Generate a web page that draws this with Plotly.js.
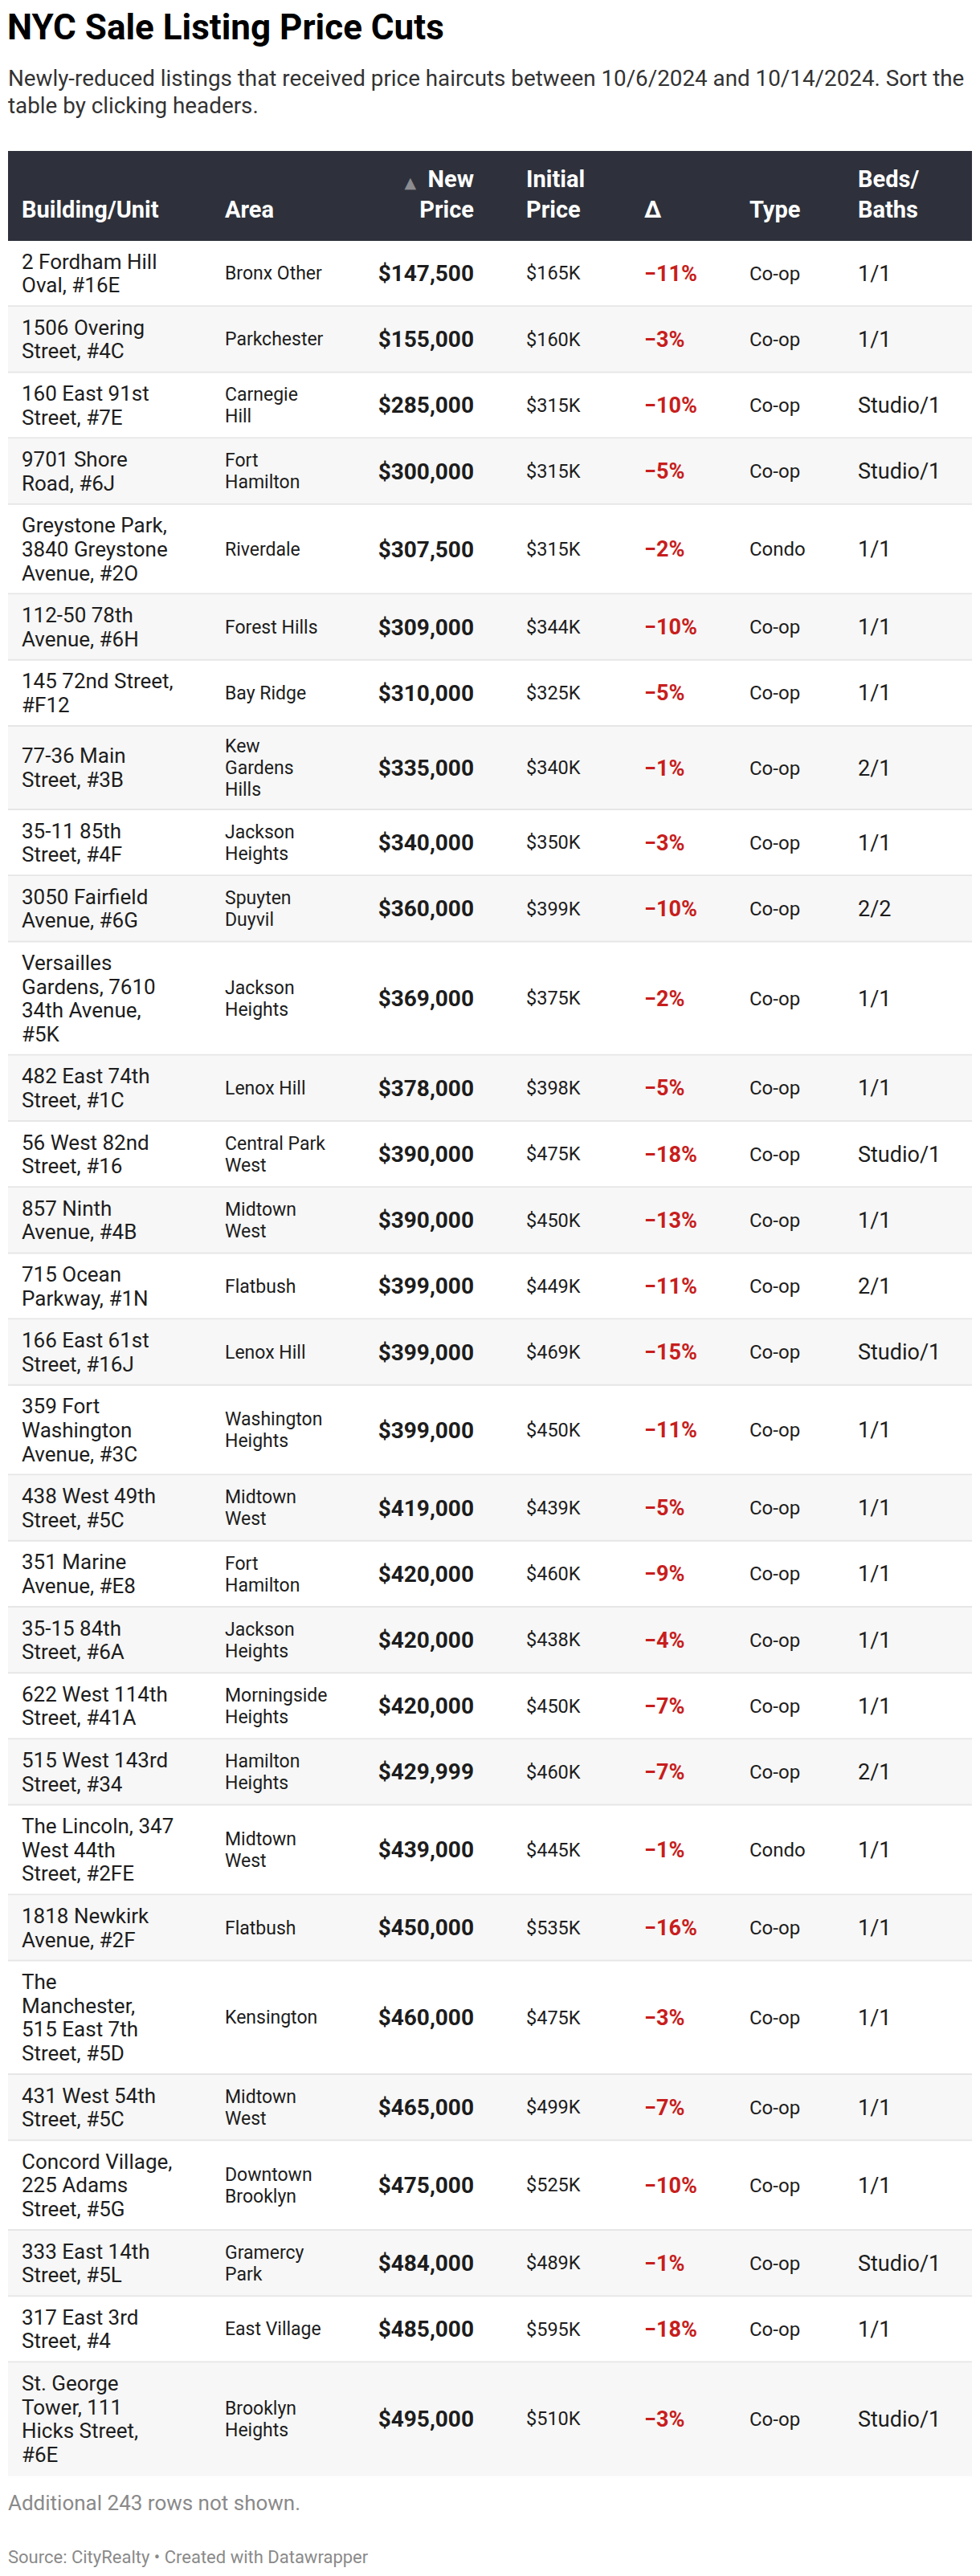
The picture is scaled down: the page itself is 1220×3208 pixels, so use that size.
<!DOCTYPE html>
<html>
<head>
<meta charset="utf-8">
<script src="https://cdn.plot.ly/plotly-3.0.1.min.js"></script>
<style>
  body { margin: 0; background: #fff; }
  #price-cuts { width: 1220px; height: 3208px; }
</style>
</head>
<body>
<div id="price-cuts"></div>
<script>
// one array per table column, line breaks as in the published table
var buildings = [
  "2 Fordham Hill<br>Oval, #16E",
  "1506 Overing<br>Street, #4C",
  "160 East 91st<br>Street, #7E",
  "9701 Shore<br>Road, #6J",
  "Greystone Park,<br>3840 Greystone<br>Avenue, #2O",
  "112-50 78th<br>Avenue, #6H",
  "145 72nd Street,<br>#F12",
  "77-36 Main<br>Street, #3B",
  "35-11 85th<br>Street, #4F",
  "3050 Fairfield<br>Avenue, #6G",
  "Versailles<br>Gardens, 7610<br>34th Avenue,<br>#5K",
  "482 East 74th<br>Street, #1C",
  "56 West 82nd<br>Street, #16",
  "857 Ninth<br>Avenue, #4B",
  "715 Ocean<br>Parkway, #1N",
  "166 East 61st<br>Street, #16J",
  "359 Fort<br>Washington<br>Avenue, #3C",
  "438 West 49th<br>Street, #5C",
  "351 Marine<br>Avenue, #E8",
  "35-15 84th<br>Street, #6A",
  "622 West 114th<br>Street, #41A",
  "515 West 143rd<br>Street, #34",
  "The Lincoln, 347<br>West 44th<br>Street, #2FE",
  "1818 Newkirk<br>Avenue, #2F",
  "The<br>Manchester,<br>515 East 7th<br>Street, #5D",
  "431 West 54th<br>Street, #5C",
  "Concord Village,<br>225 Adams<br>Street, #5G",
  "333 East 14th<br>Street, #5L",
  "317 East 3rd<br>Street, #4",
  "St. George<br>Tower, 111<br>Hicks Street,<br>#6E"
];
var areas = [
  "Bronx Other", "Parkchester", "Carnegie<br>Hill", "Fort<br>Hamilton", "Riverdale",
  "Forest Hills", "Bay Ridge", "Kew<br>Gardens<br>Hills", "Jackson<br>Heights", "Spuyten<br>Duyvil",
  "Jackson<br>Heights", "Lenox Hill", "Central Park<br>West", "Midtown<br>West", "Flatbush",
  "Lenox Hill", "Washington<br>Heights", "Midtown<br>West", "Fort<br>Hamilton", "Jackson<br>Heights",
  "Morningside<br>Heights", "Hamilton<br>Heights", "Midtown<br>West", "Flatbush", "Kensington",
  "Midtown<br>West", "Downtown<br>Brooklyn", "Gramercy<br>Park", "East Village", "Brooklyn<br>Heights"
];
var newPrices = [147500, 155000, 285000, 300000, 307500, 309000, 310000, 335000, 340000, 360000,
  369000, 378000, 390000, 390000, 399000, 399000, 399000, 419000, 420000, 420000,
  420000, 429999, 439000, 450000, 460000, 465000, 475000, 484000, 485000, 495000];
// initial asking price, thousands of dollars
var initialPrices = [165, 160, 315, 315, 315, 344, 325, 340, 350, 399,
  375, 398, 475, 450, 449, 469, 450, 439, 460, 438,
  450, 460, 445, 535, 475, 499, 525, 489, 595, 510];
// change in percent
var changes = [-11, -3, -10, -5, -2, -10, -5, -1, -3, -10,
  -2, -5, -18, -13, -11, -15, -11, -5, -9, -4,
  -7, -7, -1, -16, -3, -7, -10, -1, -18, -3];
var types = ["Co-op", "Co-op", "Co-op", "Co-op", "Condo", "Co-op", "Co-op", "Co-op", "Co-op", "Co-op",
  "Co-op", "Co-op", "Co-op", "Co-op", "Co-op", "Co-op", "Co-op", "Co-op", "Co-op", "Co-op",
  "Co-op", "Co-op", "Condo", "Co-op", "Co-op", "Co-op", "Co-op", "Co-op", "Co-op", "Co-op"];
var bedsBaths = ["1/1", "1/1", "Studio/1", "Studio/1", "1/1", "1/1", "1/1", "2/1", "1/1", "2/2",
  "1/1", "1/1", "Studio/1", "1/1", "2/1", "Studio/1", "1/1", "1/1", "1/1", "1/1",
  "1/1", "2/1", "1/1", "1/1", "1/1", "1/1", "1/1", "Studio/1", "1/1", "Studio/1"];
var headers = ["Building/Unit", "Area", "New<br>Price", "Initial<br>Price", "Δ", "Type", "Beds/<br>Baths"];

var ink = "#1d1d1d";
var red = "#c71e1d";

// formatted cell text per column
var cellText = [
  buildings,
  areas,
  newPrices.map(p => "$" + p.toLocaleString("en-US")),
  initialPrices.map(p => "$" + p + "K"),
  changes.map(c => (c < 0 ? "\u2212" : "+") + Math.abs(c) + "%"),
  types,
  bedsBaths
];

// column look: left edge (or right edge for the price), font and line gap
var columns = [
  {x: 27, pos: "middle right", size: 26, weight: 400, color: ink, gap: 29.6},
  {x: 280, pos: "middle right", size: 23, weight: 400, color: ink, gap: 27},
  {x: 590, pos: "middle left", size: 28, weight: 700, color: ink, gap: 30},
  {x: 655, pos: "middle right", size: 23.5, weight: 400, color: ink, gap: 28},
  {x: 802, pos: "middle right", size: 27, weight: 700, color: red, gap: 30},
  {x: 933, pos: "middle right", size: 24, weight: 400, color: ink, gap: 28},
  {x: 1068, pos: "middle right", size: 27, weight: 400, color: ink, gap: 29.6}
];

var tableLeft = 10, tableRight = 1210;
var headTop = 188, headBottom = 300;
var rowPad = 23, border = 2;

// row heights follow the number of wrapped lines
var rowTop = [], rowH = [];
var yy = headBottom;
buildings.forEach(function(b, i) {
  var nb = b.split("<br>").length;
  var na = areas[i].split("<br>").length;
  var h = Math.max(nb * columns[0].gap, na * columns[1].gap) + rowPad;
  rowTop.push(yy);
  rowH.push(h);
  yy += h;
});

var traces = [];
cellText.forEach(function(col, c) {
  var spec = columns[c];
  var xs = [], ys = [], ts = [];
  col.forEach(function(val, i) {
    var lines = String(val).split("<br>");
    var mid = rowTop[i] + (rowH[i] - border) / 2;
    lines.forEach(function(line, k) {
      xs.push(spec.x);
      ys.push(mid + (k - (lines.length - 1) / 2) * spec.gap + 0.105 * spec.size);
      ts.push(line);
    });
  });
  traces.push({
    type: "scatter", mode: "text", x: xs, y: ys, text: ts,
    textposition: spec.pos,
    textfont: {family: "Roboto", size: spec.size, color: spec.color, weight: spec.weight},
    hoverinfo: "skip", showlegend: false, cliponaxis: false
  });
});

// header labels, bottom aligned
var headSize = 29;
var hx = [], hy = [], ht = [], hp = [];
headers.forEach(function(h, c) {
  var lines = h.split("<br>");
  lines.forEach(function(line, k) {
    var baseline = 271 - (lines.length - 1 - k) * 38;
    hx.push(columns[c].x);
    hy.push(baseline - 0.25 * headSize);
    ht.push(line);
    hp.push(columns[c].pos);
  });
});
traces.push({
  type: "scatter", mode: "text", x: hx, y: hy, text: ht, textposition: hp,
  textfont: {family: "Roboto", size: headSize, color: "#ffffff", weight: 700},
  hoverinfo: "skip", showlegend: false, cliponaxis: false
});
// sort marker in front of "New"
traces.push({
  type: "scatter", mode: "text", x: [518], y: [229], text: ["\u25B2"], textposition: "middle left",
  textfont: {family: "DejaVu Sans", size: 19, color: "#8c8c91"},
  hoverinfo: "skip", showlegend: false, cliponaxis: false
});

var shapes = [{
  type: "rect", layer: "below", xref: "x", yref: "y",
  x0: tableLeft, x1: tableRight, y0: headTop, y1: headBottom,
  fillcolor: "#2e313b", line: {width: 0}
}];
rowTop.forEach(function(t, i) {
  if (i % 2 === 1) {
    shapes.push({
      type: "rect", layer: "below", xref: "x", yref: "y",
      x0: tableLeft, x1: tableRight, y0: t, y1: t + rowH[i] - (i < rowTop.length - 1 ? border : 0),
      fillcolor: "#f7f7f7", line: {width: 0}
    });
  }
  if (i < rowTop.length - 1) {
    shapes.push({
      type: "rect", layer: "below", xref: "x", yref: "y",
      x0: tableLeft, x1: tableRight, y0: t + rowH[i] - border, y1: t + rowH[i],
      fillcolor: "#e6e6e6", line: {width: 0}
    });
  }
});

var W = 1220, H = 3208;
var note = {xref: "paper", yref: "paper", xanchor: "left", yanchor: "middle", align: "left", showarrow: false};
var layout = {
  width: W, height: H,
  margin: {l: 0, r: 0, t: 0, b: 0},
  paper_bgcolor: "#ffffff", plot_bgcolor: "#ffffff",
  font: {family: "Roboto, sans-serif", color: ink},
  showlegend: false, hovermode: false,
  xaxis: {range: [0, W], visible: false, fixedrange: true},
  yaxis: {range: [H, 0], visible: false, fixedrange: true},
  title: {
    text: "NYC Sale Listing Price Cuts",
    font: {family: "Roboto", size: 44, color: "#000000", weight: 700},
    xref: "container", yref: "container",
    x: 9 / W, xanchor: "left", y: 1 - 34 / H, yanchor: "middle"
  },
  annotations: [
    Object.assign({}, note, {
      text: "Newly-reduced listings that received price haircuts between 10/6/2024 and 10/14/2024. Sort the",
      x: 8 / W, y: 1 - 97 / H, font: {family: "Roboto", size: 27.8, color: "#333333"}
    }),
    Object.assign({}, note, {
      text: "table by clicking headers.",
      x: 8 / W, y: 1 - 131 / H, font: {family: "Roboto", size: 27.8, color: "#333333"}
    }),
    Object.assign({}, note, {
      text: "Additional 243 rows not shown.",
      x: 8 / W, y: 1 - 3117 / H, font: {family: "Roboto", size: 26, color: "#8a8a8a"}
    }),
    Object.assign({}, note, {
      text: "Source: CityRealty \u2022 Created with Datawrapper",
      x: 8 / W, y: 1 - 3184 / H, font: {family: "Roboto", size: 22, color: "#8a8a8a"}
    })
  ],
  shapes: shapes
};

Plotly.newPlot("price-cuts", traces, layout, {staticPlot: true, displayModeBar: false});
</script>
</body>
</html>
